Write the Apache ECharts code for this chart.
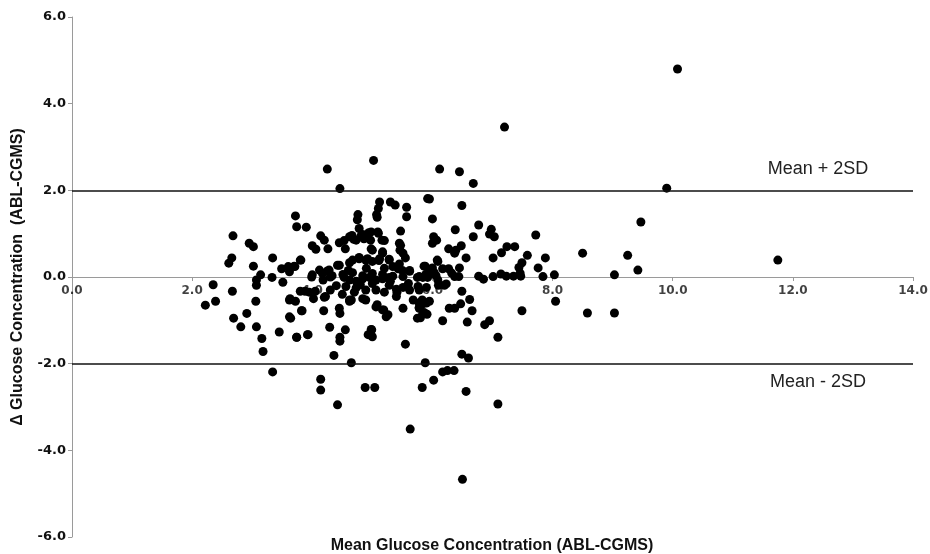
<!DOCTYPE html>
<html>
<head>
<meta charset="utf-8">
<script src="https://cdn.jsdelivr.net/npm/echarts@6/dist/echarts.min.js"></script>
<style>html,body{margin:0;padding:0;background:#fff}#c{width:930px;height:554px}</style>
</head>
<body>
<div id="c"></div>
<script>
const xTickValues = [0, 2, 4, 6, 8, 10, 12, 14];
const xTicks = ["0.0","2.0","4.0","6.0","8.0","10.0","12.0","14.0"];
const yTicks = ["-6.0","-4.0","-2.0","0.0","2.0","4.0","6.0"];
const upperLimit = 2.0;
const lowerLimit = -2.0;
const upperLabel = "Mean + 2SD";
const lowerLabel = "Mean - 2SD";
const xTitle = "Mean Glucose Concentration (ABL-CGMS)";
const yTitle = "\u0394 Glucose Concentration  (ABL-CGMS)";

const outliers = [
 [10.08,4.8],[7.2,3.46],[9.9,2.05],[4.25,2.49],[5.02,2.69],[4.46,2.04],[6.12,2.49],[6.45,2.43],[6.68,2.16],
 [11.75,0.39],[9.47,1.27],[9.25,0.5],[9.42,0.16],[9.03,0.05],[8.5,0.55],[8.58,-0.83],[9.03,-0.83],[8.05,-0.56],
 [8.03,0.05],[7.84,0.01],[7.72,0.97],[7.88,0.44],[7.76,0.21],[7.58,0.5],[7.49,0.33],[7.44,0.22]
];
const rightGroup = [
 [6.49,1.65],[5.95,1.8],[6.0,1.34],[6.77,1.2],[6.38,1.09],[6.98,1.1],[6.95,0.99],[7.03,0.93],[6.68,0.93],
 [6.02,0.93],[6.07,0.85],[6.0,0.78],[6.27,0.65],[6.39,0.62],[6.48,0.72],[6.37,0.55],[6.56,0.44],[7.24,0.7],
 [7.37,0.7],[7.15,0.56],[7.01,0.44],[6.08,0.39],[6.0,0.21],[5.95,0.09],[6.03,0.1],[6.27,0.19],[6.32,0.09],
 [6.37,0.01],[6.45,0.21],[6.44,0.01],[6.77,0.02],[6.85,-0.05],[7.01,0.01],[7.14,0.07],[7.23,0.02],[7.35,0.02],
 [7.46,0.09],[7.47,0.02],[6.1,-0.19],[6.23,-0.16],[6.49,-0.33],[6.62,-0.52],[6.66,-0.78],[6.28,-0.72],
 [6.37,-0.72],[6.47,-0.62],[5.95,-0.56],[6.17,-1.01],[6.58,-1.04],[6.87,-1.1],[6.95,-1.01],[7.49,-0.78],
 [7.09,-1.39],[6.49,-1.78],[6.6,-1.87],[6.17,-2.19],[6.25,-2.16],[6.36,-2.16],[6.02,-2.38],[6.56,-2.64],
 [7.09,-2.93],[6.5,-4.67],[5.78,0.01],[5.84,-0.01],[5.92,-0.01],[6.09,-0.07],[6.2,-0.19],[5.86,-0.82],
 [5.88,0.25],[6.09,0.36],[6.17,0.19],[5.84,-0.62],[5.78,-0.7]
];
const lowerMiddle = [
 [3.83,-0.78],[4.19,-0.78],[3.62,-0.92],[4.45,-0.72],[4.46,-0.84],[4.29,-1.16],[3.74,-1.39],[3.93,-1.33],
 [4.55,-1.22],[4.46,-1.39],[4.46,-1.48],[4.99,-1.22],[4.93,-1.33],[4.36,-1.81],[4.65,-1.98],[5.55,-1.55],
 [5.88,-1.98],[5.83,-2.55],[4.14,-2.36],[4.14,-2.61],[4.88,-2.55],[5.04,-2.55],[4.42,-2.95],[5.63,-3.51],
 [3.62,-0.53],[4.02,-0.5],[4.2,-0.47],[4.62,-0.56],[4.65,-0.53],[4.84,-0.5],[5.08,-0.64],[5.19,-0.76],
 [5.26,-0.87],[5.41,-0.35],[5.51,-0.72],[5.68,-0.53],[5.78,-0.6],[5.83,-0.53],[5.9,-0.6],[5.78,-0.72],
 [5.8,-0.94],[5.91,-0.86],[5.76,-0.22],[4.98,-1.21],[5.0,-1.38],[5.75,-0.95],[5.84,-0.84],
 [4.62,-0.53],[4.89,-0.53],[5.06,-0.69],[5.17,-0.76],[5.23,-0.92]
];
const leftGroup = [
 [3.72,1.41],[3.74,1.16],[3.9,1.15],[2.68,0.95],[2.95,0.78],[3.02,0.7],[2.61,0.32],[2.66,0.44],[3.02,0.25],
 [3.34,0.44],[3.14,0.05],[3.07,-0.07],[3.07,-0.19],[3.33,-0.01],[3.51,-0.12],[3.49,0.19],[3.6,0.24],[3.62,0.12],
 [3.7,0.25],[3.8,0.39],[2.35,-0.18],[2.67,-0.33],[2.22,-0.65],[2.39,-0.56],[2.69,-0.95],[2.81,-1.15],[2.91,-0.84],
 [3.06,-0.56],[3.07,-1.15],[3.16,-1.42],[3.18,-1.72],[3.45,-1.27],[3.63,-0.5],[3.72,-0.56],[3.64,-0.95],
 [3.82,-0.78],[3.74,-1.39],[3.92,-1.33],[3.8,-0.33],[3.95,-0.35],[3.34,-2.19],[3.88,-0.33],[4.05,-0.33],
 [4.22,-0.45],[3.99,0.0],[3.71,0.24],[3.81,0.39]
];
const upperMiddle = [
 [5.92,1.81],[5.12,1.73],[5.1,1.58],[5.07,1.44],[5.08,1.38],[5.3,1.73],[5.38,1.66],[5.57,1.61],[5.57,1.39],
 [4.76,1.44],[4.75,1.32],[4.78,1.12],[5.47,1.06],[4.14,0.95],[4.2,0.85],[4.0,0.72],[4.06,0.64],[4.26,0.65],
 [4.53,0.84],[4.66,0.96],[4.81,0.95],[4.94,1.02],[5.09,1.04],[5.2,0.84],[4.73,0.85],[4.86,0.88],[4.97,0.85],
 [4.55,0.65],[4.98,0.65],[5.17,0.58],[5.47,0.73],[5.51,0.55],[5.55,0.44],[5.46,0.62],[5.45,0.78],[4.12,0.16],
 [4.28,0.16],[4.45,0.27],[4.62,0.33],[4.78,0.42],[4.92,0.42],[5.11,0.38],[5.28,0.39],[5.45,0.3],[5.62,0.13],
 [5.86,0.25],[4.0,0.05],[4.17,0.08],[4.33,0.03],[4.51,0.06],[4.67,0.1],[4.84,0.03],[5.0,0.08],[5.17,0.06],
 [5.34,0.02],[5.51,0.01],[5.89,0.06],[6.06,0.03],[4.25,0.14],[4.18,-0.07],[4.3,0.0],[4.42,0.27],
 [4.45,0.79],[4.62,0.93],[4.69,0.87],[4.84,0.98],[4.98,1.04],[5.1,1.01],[5.16,0.85],[5.0,0.62],[5.17,0.55]
];
const denseCore = [
 [4.53,-0.01],[4.62,-0.07],[4.73,-0.1],[4.84,-0.04],[4.95,-0.01],[5.06,-0.07],[5.17,-0.04],[5.28,-0.01],
 [4.56,-0.22],[4.73,-0.25],[4.89,-0.3],[5.06,-0.3],[5.28,-0.19],[5.4,-0.28],[5.51,-0.24],[5.62,-0.3],
 [5.78,-0.3],[5.9,-0.24],[4.67,0.39],[4.78,0.45],[4.89,0.39],[5.0,0.36],[5.12,0.42],[5.28,0.41],[5.34,0.24],
 [5.43,0.19],[5.62,0.15],[5.75,-0.01],[4.4,-0.2],[4.3,-0.3],[4.5,-0.4],[4.7,-0.35],[5.0,-0.15],[5.2,-0.35],
 [5.4,-0.45],[5.6,-0.15],[4.6,0.15],[4.9,0.2],[5.2,0.2],[5.5,0.15],[4.8,-0.18],[5.3,-0.1]
];
const points = [].concat(outliers, rightGroup, lowerMiddle, leftGroup, upperMiddle, denseCore);

const font = 'Arial, "Liberation Sans", sans-serif';
const tickFont = '"DejaVu Sans", Arial, sans-serif';
const chart = echarts.init(document.getElementById('c'));
chart.setOption({
  animation: false,
  title: {
    text: xTitle, left: 492, bottom: 0, textAlign: 'center', padding: 0,
    textStyle: {color: '#111', fontWeight: 'bold', fontSize: 16, fontFamily: font}
  },
  grid: {left: 72, right: 17, top: 17, bottom: 17, containLabel: false},
  xAxis: {
    type: 'value', min: 0, max: 14, interval: 2,
    axisLine: {onZero: true, lineStyle: {color: '#9a9a9a', width: 1}},
    axisTick: {show: true, length: 4, lineStyle: {color: '#9a9a9a'}},
    splitLine: {show: false},
    axisLabel: {show: false}
  },
  yAxis: {
    type: 'value', min: -6, max: 6, interval: 2,
    axisLine: {show: true, onZero: false, lineStyle: {color: '#9a9a9a', width: 1}},
    axisTick: {show: true, length: 4, lineStyle: {color: '#9a9a9a'}},
    splitLine: {show: false},
    axisLabel: {color: '#111', fontWeight: 'bold', fontSize: 13, fontFamily: tickFont, margin: 6,
      formatter: (v) => yTicks[Math.round((v + 6) / 2)]},
    name: yTitle, nameLocation: 'middle', nameGap: 46, nameRotate: 90,
    nameTextStyle: {color: '#111', fontWeight: 'bold', fontSize: 16, fontFamily: font}
  },
  series: [{
    type: 'scatter',
    z: 3,
    data: points,
    symbol: 'circle', symbolSize: 9,
    itemStyle: {color: '#000', opacity: 1},
    markLine: {
      silent: true, symbol: ['none', 'none'],
      lineStyle: {color: '#111', width: 1.5, type: 'solid'},
      label: {show: false},
      data: [{yAxis: upperLimit}, {yAxis: lowerLimit}]
    },
    markPoint: {
      silent: true, symbol: 'circle', symbolSize: 0,
      label: {show: true, position: 'inside', color: '#222', fontSize: 18, fontFamily: font,
        formatter: (p) => p.name},
      data: [
        {name: upperLabel, coord: [12.42, upperLimit + 0.49]},
        {name: lowerLabel, coord: [12.42, lowerLimit - 0.42]}
      ]
    }
  }, {
    type: 'scatter',
    silent: true,
    clip: false,
    z: 1,
    data: xTickValues.map((v, i) => ({value: [v, 0], name: xTicks[i]})),
    symbol: 'circle',
    symbolSize: 1,
    itemStyle: {color: 'rgba(0,0,0,0)'},
    label: {show: true, position: 'bottom', distance: 7, color: '#111', fontWeight: 'bold', fontSize: 12,
      fontFamily: tickFont, formatter: (p) => p.name}
  }]
});
</script>
</body>
</html>
